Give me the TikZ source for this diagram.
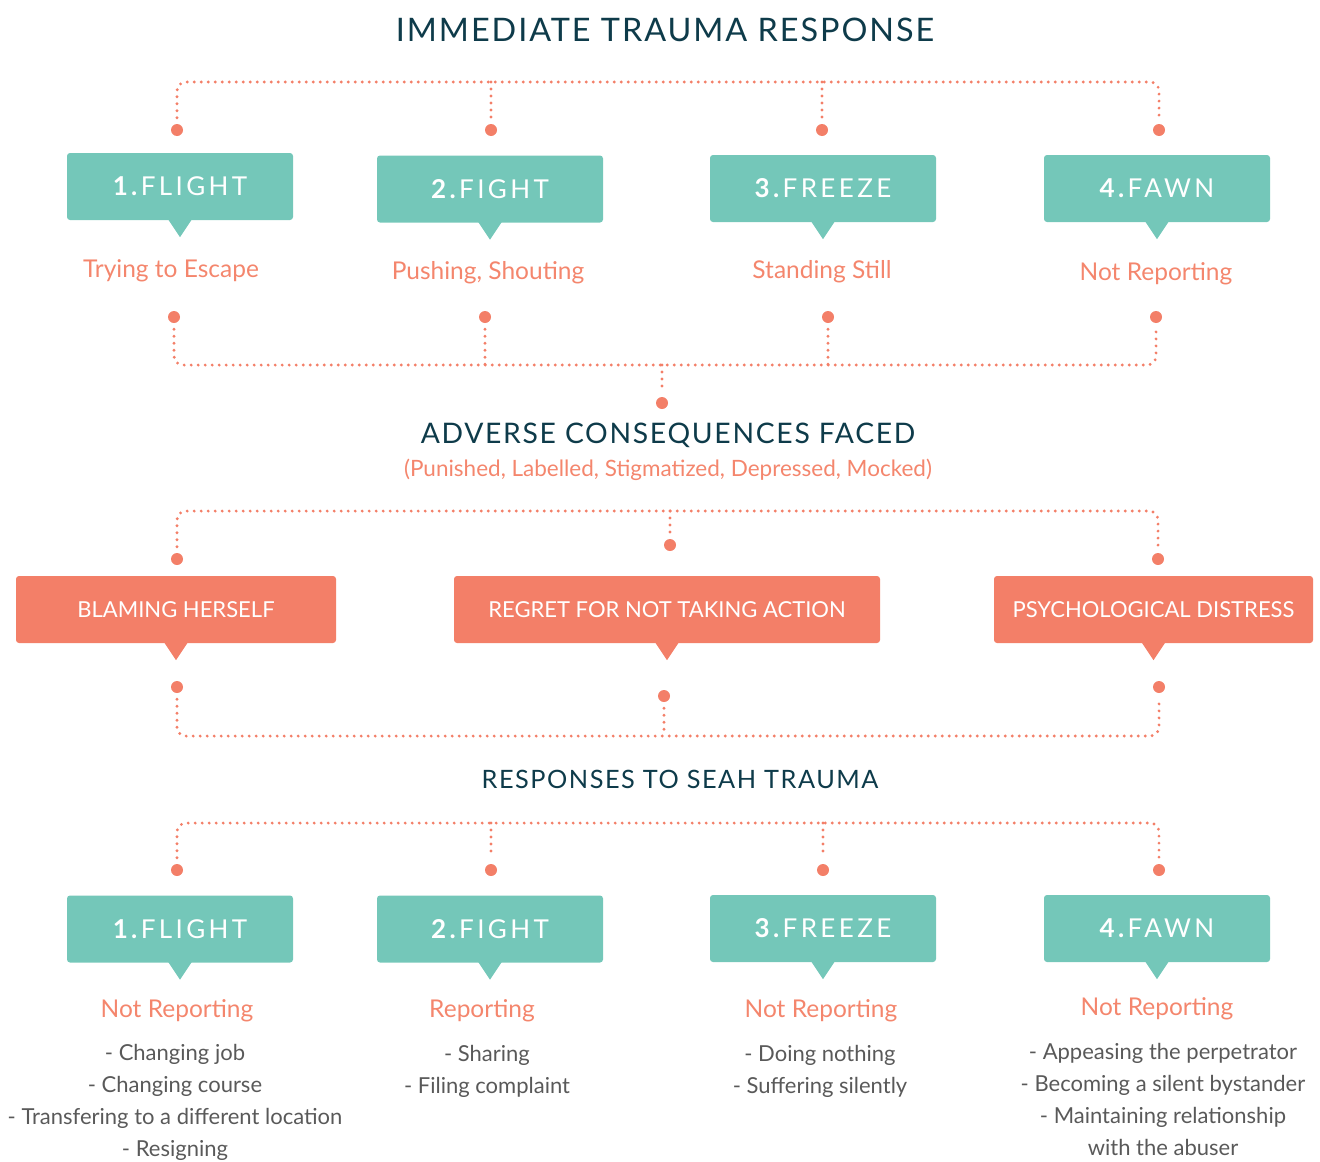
\documentclass[tikz,border=0pt]{standalone}
\usepackage{fontspec}
\setmainfont{Lato}
\newfontfamily\capsfont[LetterSpace=6]{Lato}
\newfontfamily\tagfont[LetterSpace=13]{Lato}
\usetikzlibrary{calc}

\definecolor{tealbox}{HTML}{74C7B9}
\definecolor{salmon}{HTML}{F37F68}
\definecolor{salmontext}{HTML}{F4866D}
\definecolor{darkhead}{HTML}{0E3B4A}
\definecolor{graytext}{HTML}{595959}

\tikzset{
  tealtag/.style={fill=tealbox, rounded corners=3pt, minimum width=226pt, minimum height=67pt,
    text=white, font=\tagfont\fontsize{26}{30}\selectfont},
  salmontag/.style={fill=salmon, rounded corners=3pt, minimum height=67pt,
    text=white, font=\fontsize{22}{26}\selectfont},
  bead/.style={circle, fill=salmon, inner sep=0pt, minimum size=12pt},
  dotline/.style={salmon, line width=3.2pt, line cap=round, dash pattern=on 0pt off 7pt,
    rounded corners=9pt, shorten <=6pt, shorten >=6pt},
  heading/.style={text=darkhead, font=\capsfont\fontsize{28.3}{32}\selectfont},
  result/.style={text=salmontext, font=\fontsize{24.5}{28}\selectfont},
  items/.style={text=graytext, align=center, anchor=north, inner sep=0pt,
    font=\fontsize{22}{32}\selectfont},
}

% little pointer under a tag
\newcommand{\tagtip}[2]{\fill[#2] ($(#1.south)+(-12,-1)$) -- ($(#1.south)+(0,17)$) -- ($(#1.south)+(12,-1)$) -- cycle;}

\begin{document}
\begin{tikzpicture}[x=1pt,y=-1pt]
\useasboundingbox (0,0) rectangle (1320,1162);

% immediate response
\node[heading, font=\capsfont\fontsize{32.4}{38}\selectfont] (immtitle) at (665,30) {IMMEDIATE TRAUMA RESPONSE};
\coordinate (topbar) at (665,82);

\node[bead] (t1) at (177,130) {};
\node[bead] (t2) at (491,130) {};
\node[bead] (t3) at (822,130) {};
\node[bead] (t4) at (1159,130) {};

\node[tealtag] (flight1) at (180,186.5) {\textbf{1.}FLIGHT};
\node[tealtag] (fight1) at (490,189) {\textbf{2.}FIGHT};
\node[tealtag] (freeze1) at (823,188.5) {\textbf{3.}FREEZE};
\node[tealtag] (fawn1) at (1157,188.5) {\textbf{4.}FAWN};
\tagtip{flight1}{tealbox}
\tagtip{fight1}{tealbox}
\tagtip{freeze1}{tealbox}
\tagtip{fawn1}{tealbox}

\node[result] (escape) at (171,271) {Trying to Escape};
\node[result] (pushing) at (488,273) {Pushing, Shouting};
\node[result] (standing) at (822,272) {Standing Still};
\node[result] (notrep1) at (1156,274) {Not Reporting};

\draw[dotline] (t1.north) |- (topbar) -| (t4.north);
\draw[dotline, shorten <=0pt] (topbar -| t2) -- (t2.north);
\draw[dotline, shorten <=0pt] (topbar -| t3) -- (t3.north);

\node[bead] (b1) at (174,317) {};
\node[bead] (b2) at (485,317) {};
\node[bead] (b3) at (828,317) {};
\node[bead] (b4) at (1156,317) {};
\node[bead] (m1) at (662,403) {};
\coordinate (midbar) at (662,365);

\draw[dotline] (b1.south) |- (midbar) -| (b4.south);
\draw[dotline, shorten >=0pt] (b2.south) -- (b2.south |- midbar);
\draw[dotline, shorten >=0pt] (b3.south) -- (b3.south |- midbar);
\draw[dotline, shorten <=0pt] (midbar) -- (m1.north);

% consequences
\node[heading] (advtitle) at (668,435) {ADVERSE CONSEQUENCES FACED};
\node[result, font=\fontsize{22.5}{26}\selectfont] (advsub) at (668,470) {(Punished, Labelled, Stigmatized, Depressed, Mocked)};
\coordinate (advbar) at (670,511);

\node[bead] (c1) at (177,559) {};
\node[bead] (c2) at (670,545) {};
\node[bead] (c3) at (1158,559) {};
\draw[dotline] (c1.north) |- (advbar) -| (c3.north);
\draw[dotline, shorten <=0pt] (advbar) -- (c2.north);

\node[salmontag, minimum width=320pt] (blame) at (176,609.5) {BLAMING HERSELF};
\node[salmontag, minimum width=426pt] (regret) at (667,609.5) {REGRET FOR NOT TAKING ACTION};
\node[salmontag, minimum width=319pt] (distress) at (1153.5,609.5) {PSYCHOLOGICAL DISTRESS};
\tagtip{blame}{salmon}
\tagtip{regret}{salmon}
\tagtip{distress}{salmon}

\node[bead] (d1) at (177,687) {};
\node[bead] (d2) at (664,696) {};
\node[bead] (d3) at (1159,687) {};
\coordinate (lowbar) at (664,736);
\draw[dotline] (d1.south) |- (lowbar) -| (d3.south);
\draw[dotline, shorten >=0pt] (d2.south) -- (lowbar);

% responses
\node[heading, font=\capsfont\fontsize{25.3}{30}\selectfont] (resptitle) at (680,779) {RESPONSES TO SEAH TRAUMA};
\coordinate (respbar) at (668,823);

\node[bead] (r1) at (177,870) {};
\node[bead] (r2) at (491,870) {};
\node[bead] (r3) at (823,870) {};
\node[bead] (r4) at (1159,870) {};
\draw[dotline] (r1.north) |- (respbar) -| (r4.north);
\draw[dotline, shorten <=0pt] (respbar -| r2) -- (r2.north);
\draw[dotline, shorten <=0pt] (respbar -| r3) -- (r3.north);

\node[tealtag] (flight2) at (180,929) {\textbf{1.}FLIGHT};
\node[tealtag] (fight2) at (490,929) {\textbf{2.}FIGHT};
\node[tealtag] (freeze2) at (823,928.5) {\textbf{3.}FREEZE};
\node[tealtag] (fawn2) at (1157,928.5) {\textbf{4.}FAWN};
\tagtip{flight2}{tealbox}
\tagtip{fight2}{tealbox}
\tagtip{freeze2}{tealbox}
\tagtip{fawn2}{tealbox}

\node[result] (notrep2) at (177,1011) {Not Reporting};
\node[result] (rep) at (482,1011) {Reporting};
\node[result] (notrep3) at (821,1011) {Not Reporting};
\node[result] (notrep4) at (1157,1009) {Not Reporting};

\node[items] (fllist) at (175,1044) {- Changing job\\- Changing course\\- Transfering to a different location\\- Resigning};
\node[items] (filist) at (487,1045) {- Sharing\\- Filing complaint};
\node[items] (frlist) at (820,1045) {- Doing nothing\\- Suffering silently};
\node[items] (falist) at (1163,1043) {- Appeasing the perpetrator\\- Becoming a silent bystander\\- Maintaining relationship\\with the abuser};

\end{tikzpicture}
\end{document}
